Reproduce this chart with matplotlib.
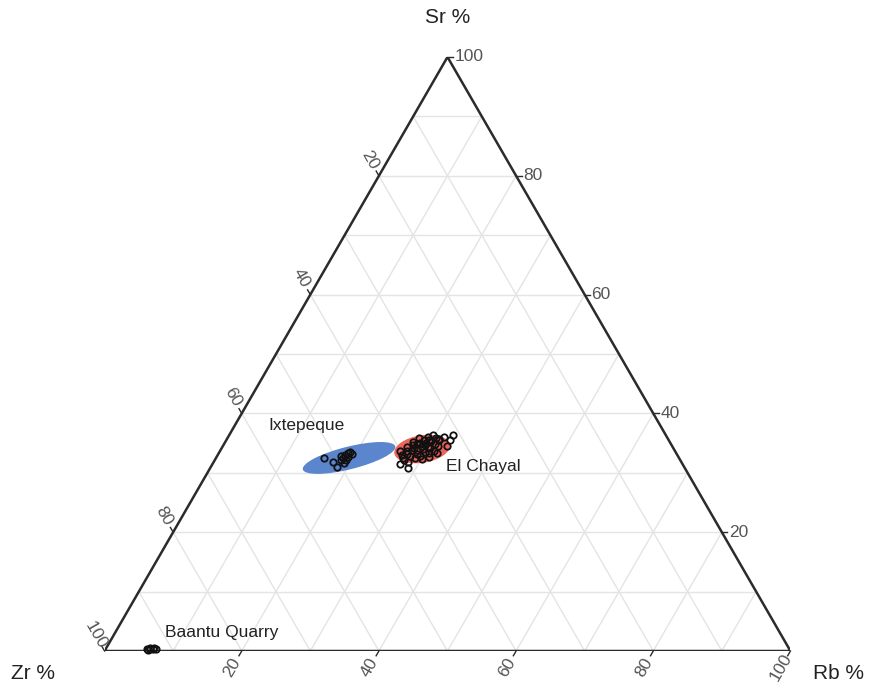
"""Ternary Sr-Rb-Zr plot of obsidian sources (El Chayal, Ixtepeque, Baantu Quarry)."""

import matplotlib

matplotlib.use("Agg")

import matplotlib.pyplot as plt
import numpy as np
from matplotlib.patches import Ellipse

plt.rcParams["font.family"] = ["Liberation Sans", "DejaVu Sans"]

# ---------------------------------------------------------------------------
# Data (Sr %, Rb %, Zr %)
# ---------------------------------------------------------------------------

chayal_sr = [34.5, 34.0, 33.8, 35.0, 34.8, 33.5, 34.2, 35.3, 33.2, 34.6,
             33.9, 35.6, 35.5, 32.9, 33.4, 34.9, 35.9, 36.1, 32.8, 33.1,
             34.3, 35.2, 35.8, 36.3, 32.5, 32.4, 33.6, 34.5, 35.5, 36.0,
             33.0, 32.2, 31.8, 31.5, 34.1, 33.7, 35.1, 34.4, 33.3, 32.7,
             36.4, 35.5, 34.5, 30.8, 32.5, 33.6, 35.7, 34.7]
chayal_rb = [29.0, 29.5, 28.6, 29.3, 28.2, 29.9, 30.3, 30.0, 28.9, 27.6,
             27.9, 28.8, 29.6, 29.6, 30.6, 30.8, 30.4, 29.1, 28.2, 27.5,
             27.0, 27.4, 27.9, 29.8, 29.0, 30.1, 31.3, 31.4, 31.0, 31.5,
             26.8, 27.6, 28.4, 27.3, 28.0, 27.2, 28.5, 30.0, 31.8, 30.9,
             32.6, 32.6, 32.7, 28.9, 27.3, 26.3, 30.9, 29.4]
chayal_zr = [100 - s - r for s, r in zip(chayal_sr, chayal_rb)]

ixte_sr = [32.5, 31.8, 31.0, 32.5, 33.0, 33.3, 33.5, 31.6, 32.2, 32.2,
           32.8, 32.7, 33.2]
ixte_rb = [15.8, 17.4, 18.4, 18.5, 18.6, 18.9, 19.0, 19.1, 18.3, 19.1,
           18.1, 19.1, 19.5]
ixte_zr = [100 - s - r for s, r in zip(ixte_sr, ixte_rb)]

baantu_sr = [0.4, 0.3, 0.5, 0.3, 0.4, 0.2, 0.5]
baantu_rb = [6.0, 6.5, 7.0, 7.4, 6.8, 6.2, 6.4]
baantu_zr = [100 - s - r for s, r in zip(baantu_sr, baantu_rb)]

# confidence ellipses: centre (Sr, Rb, Zr)
ixte_centre = (32.5, 19.4, 48.1)
chayal_centre = (34.0, 29.3, 36.7)

tick_values = [20, 40, 60, 80, 100]

H = np.sqrt(3) / 2


def tern(sr, rb, zr):
    sr = np.asarray(sr, float)
    rb = np.asarray(rb, float)
    zr = np.asarray(zr, float)
    tot = sr + rb + zr
    x = (rb + sr / 2.0) / tot
    y = sr * H / tot
    return x, y


fig = plt.figure(figsize=(8.78, 6.88), dpi=100)
ax = fig.add_axes([104 / 878, 37 / 688, 687 / 878, 594 / 688])
ax.set_xlim(0, 1)
ax.set_ylim(0, H)
ax.set_aspect("equal")
ax.axis("off")

# grid
grid_kw = dict(color="#e6e4e2", lw=1.0, zorder=0)
for v in range(10, 100, 10):
    x, y = tern([v, v], [0, 100 - v], [100 - v, 0])
    ax.plot(x, y, **grid_kw)
    x, y = tern([0, 100 - v], [v, v], [100 - v, 0])
    ax.plot(x, y, **grid_kw)
    x, y = tern([0, 100 - v], [100 - v, 0], [v, v])
    ax.plot(x, y, **grid_kw)

# triangle outline
ax.plot([0, 1, 0.5, 0], [0, 0, H, 0], color="#2b2b2b", lw=1.8, zorder=3,
        solid_joinstyle="miter")

# ticks + labels
tick_col = "#555555"
tlen = 0.008
off = 0.027
for v in tick_values:
    # Sr on right edge, horizontal
    x, y = tern(v, 100 - v, 0)
    ax.plot([x, x + tlen], [y, y], color="#2b2b2b", lw=1.0, clip_on=False)
    ax.text(x + tlen + 0.002, y, str(v), ha="left", va="center",
            fontsize=12.5, color=tick_col)
    # Zr on left edge, offset up-left
    x, y = tern(100 - v, 0, v)
    d = np.array([-0.5, H])
    ax.plot([x, x + d[0] * tlen], [y, y + d[1] * tlen], color="#2b2b2b",
            lw=1.0, clip_on=False)
    ax.text(x + d[0] * off, y + d[1] * off, str(v), ha="center",
            va="center", rotation=-60, fontsize=12.5, color=tick_col)
    # Rb on bottom edge, offset down-left
    x, y = tern(0, v, 100 - v)
    d = np.array([-0.5, -H])
    ax.plot([x, x + d[0] * tlen], [y, y + d[1] * tlen], color="#2b2b2b",
            lw=1.0, clip_on=False)
    ax.text(x + d[0] * off, y + d[1] * off, str(v), ha="center",
            va="center", rotation=60, fontsize=12.5, color=tick_col)

# axis titles
ax.text(0.5, H + 0.058, "Sr %", ha="center", va="center", fontsize=15,
        color="#222222")
ax.text(-0.105, -0.033, "Zr %", ha="center", va="center", fontsize=15,
        color="#222222")
ax.text(1.07, -0.033, "Rb %", ha="center", va="center", fontsize=15,
        color="#222222")

# ellipses
cx, cy = tern(*ixte_centre)
ax.add_patch(Ellipse((cx, cy), 0.139, 0.033, angle=14, color="#5b85cc",
                     lw=0, zorder=2))
cx, cy = tern(*chayal_centre)
ax.add_patch(Ellipse((cx, cy), 0.082, 0.040, angle=9, color="#ec645b",
                     lw=0, zorder=2))

# points
pt_kw = dict(ls="none", marker="o", ms=4.6, mfc="none", mec="#111111",
             mew=1.3, zorder=4, clip_on=False)
for s, r, z in [(chayal_sr, chayal_rb, chayal_zr),
                (ixte_sr, ixte_rb, ixte_zr),
                (baantu_sr, baantu_rb, baantu_zr)]:
    x, y = tern(s, r, z)
    ax.plot(x, y, **pt_kw)

# group labels
ax.text(164 / 687, (651 - 425) / 687, "Ixtepeque", ha="left", va="center",
        fontsize=12.5, color="#222222")
ax.text(342 / 687, (651 - 466) / 687, "El Chayal", ha="left", va="center",
        fontsize=12.5, color="#222222")
ax.text(61 / 687, (651 - 632) / 687, "Baantu Quarry", ha="left", va="center",
        fontsize=12.5, color="#222222")

fig.savefig("out.png", dpi=100)
